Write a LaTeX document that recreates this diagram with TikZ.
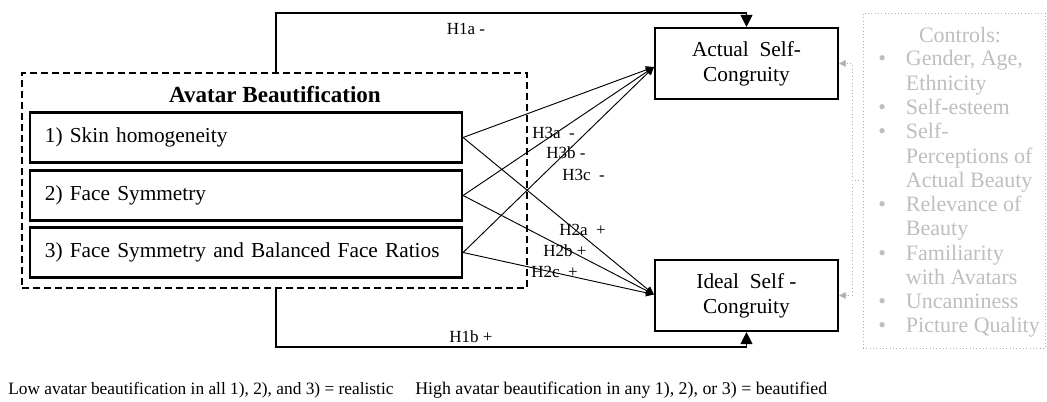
\documentclass[tikz,border=0pt]{standalone}
\usepackage{fontspec}
\setmainfont{Liberation Serif}
\usetikzlibrary{arrows.meta,calc}
\newdimen\px \px=0.75pt
\definecolor{ctrlgray}{RGB}{190,190,190}
\definecolor{dotgray}{RGB}{175,175,175}
\begin{document}
\begin{tikzpicture}[x=0.75pt,y=-0.75pt,
  box/.style={draw, line width=1.6pt, inner sep=0pt},
  dbox/.style={draw, dash pattern=on 5.25pt off 3pt, line width=1.5pt},
  conn/.style={line width=0.7pt, -{Triangle[length=6pt,width=5.5pt]}},
  bigarr/.style={line width=0.8pt, -{Triangle[length=9pt,width=9pt]}},
  gline/.style={draw=dotgray, dotted, line width=0.6pt},
  garr/.style={-{Triangle[length=5pt,width=5pt,color=dotgray]}},
  lab/.style={font=\fontsize{12.75}{14}\selectfont, inner sep=0pt},
  boxfont/.style={font=\fontsize{16}{18.6}\selectfont},
  foot/.style={font=\fontsize{13}{15}\selectfont, inner sep=0pt}
]
\useasboundingbox (0,0) rectangle (1047,402);

% Avatar beautification group
\node[dbox, minimum width=505*\px, minimum height=215*\px] (ab) at (274.5,180.5) {};
\node[font=\bfseries\fontsize{17.3}{19}\selectfont, inner sep=0pt] (abt) at (275,95) {Avatar Beautification};
\node[box, boxfont, text width=402*\px, inner xsep=15*\px, minimum height=50*\px, align=left] (b1) at (246,137.5) {1) Skin homogeneity};
\node[box, boxfont, text width=402*\px, inner xsep=15*\px, minimum height=50*\px, align=left] (b2) at (246,195.5) {2) Face Symmetry};
\node[box, boxfont, text width=402*\px, inner xsep=15*\px, minimum height=50*\px, align=left] (b3) at (246,252.5) {3) Face Symmetry and Balanced Face Ratios};

% Outcomes
\node[box, boxfont, minimum width=183*\px, minimum height=71*\px, align=center] (act) at (746.5,63.5) {Actual\ \ Self-\\Congruity};
\node[box, boxfont, minimum width=183*\px, minimum height=71*\px, align=center] (ide) at (746.5,295.5) {Ideal\ \ Self -\\Congruity};

% Controls
\node[draw=dotgray, dotted, line width=0.5pt, minimum width=182*\px, minimum height=335*\px, inner sep=0pt] (ctrl) at (954,180.5) {};
\node[text=ctrlgray, font=\fontsize{16.5}{18.2}\selectfont, inner sep=0pt] (ctrlt) at (960,35) {Controls:};
\node[text=ctrlgray, font=\fontsize{16.5}{18.2}\selectfont, inner sep=0pt, anchor=base west] (ctrll) at (878,66) {%
\begin{tabular}[t]{@{}c@{\hspace{15pt}}l@{}}
\textbullet & Gender, Age,\\
 & Ethnicity\\
\textbullet & Self-esteem\\
\textbullet & Self-\\
 & Perceptions of\\
 & Actual Beauty\\
\textbullet & Relevance of\\
 & Beauty\\
\textbullet & Familiarity\\
 & with Avatars\\
\textbullet & Uncanniness\\
\textbullet & Picture Quality
\end{tabular}};

% H1 paths
\coordinate (h1t) at (276,13);
\coordinate (h1b) at (276,347);
\draw[bigarr] (ab.north -| h1t) -- (h1t) -| (act.north);
\draw[bigarr] (ab.south -| h1b) -- (h1b) -| (ide.south);
\node[lab] (h1al) at (466,29) {H1a -};
\node[lab] (h1bl) at (471,337) {H1b +};

% Diagonal paths
\coordinate (at) at ($(act.west)+(0,3.5)$);
\coordinate (it) at ($(ide.west)+(0,-1)$);
\foreach \s in {b1,b2,b3} {
  \draw[conn] (\s.east) -- (at);
  \draw[conn] (\s.east) -- (it);
}
\node[lab, anchor=west] (h3a) at (532,133) {H3a\ \ -};
\node[lab, anchor=west] (h3b) at (546,153) {H3b -};
\node[lab, anchor=west] (h3c) at (562,175) {H3c\ \ -};
\node[lab, anchor=west] (h2a) at (559,230) {H2a\ \ +};
\node[lab, anchor=west] (h2b) at (543,251) {H2b +};
\node[lab, anchor=west] (h2c) at (531,272) {H2c\ \ +};

% Control connectors
\coordinate (jn) at (852,180.5);
\draw[gline] (ctrl.west) -- (jn);
\draw[gline, garr] (jn) |- (act.east);
\draw[gline, garr] (jn) |- (ide.east);

% Footnotes
\node[foot, anchor=west] (lo) at (8,390) {Low avatar beautification in all 1), 2), and 3) = realistic};
\node[foot, anchor=west, font=\fontsize{13.4}{15}\selectfont] (hi) at (415,390) {High avatar beautification in any 1), 2), or 3) = beautified};
\end{tikzpicture}
\end{document}
